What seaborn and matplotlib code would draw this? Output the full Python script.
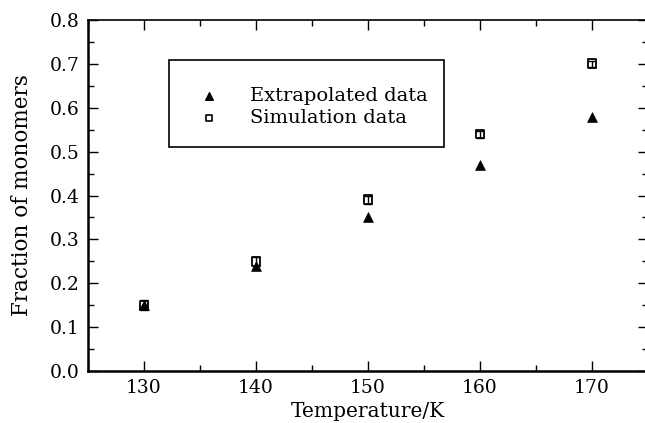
import matplotlib
matplotlib.use("Agg")
import matplotlib.pyplot as plt
from matplotlib.patches import Rectangle
from matplotlib.ticker import MultipleLocator
import seaborn as sns
import pandas as pd

temperature = [130, 140, 150, 160, 170]
extrapolated = [0.15, 0.24, 0.35, 0.47, 0.58]
simulation = [0.15, 0.25, 0.39, 0.54, 0.70]
sim_err = [0.012, 0.010, 0.010, 0.008, 0.006]

sns.set_style("ticks")
plt.rcParams['font.family'] = ['DejaVu Serif']
plt.rcParams['font.size'] = 13
plt.rcParams['text.color'] = 'black'
plt.rcParams['axes.labelcolor'] = 'black'

fig = plt.figure(figsize=(6.45, 4.23), dpi=100)
ax = fig.add_axes([88/645, 52/423, 560/645, 351/423])

df_e = pd.DataFrame({"T": temperature, "f": extrapolated})
df_s = pd.DataFrame({"T": temperature, "f": simulation, "err": sim_err})

ax.errorbar(df_s["T"], df_s["f"], yerr=df_s["err"], fmt="none", ecolor="black",
            elinewidth=1, capsize=3, zorder=2)
sns.scatterplot(data=df_e, x="T", y="f", marker="^", color="black", s=50,
                edgecolor="black", linewidth=0.5, ax=ax, zorder=3)
sns.scatterplot(data=df_s, x="T", y="f", marker="s", facecolor="none", s=40,
                edgecolor="black", linewidth=1.3, ax=ax, zorder=4)

ax.set_xlim(125, 175)
ax.set_ylim(0, 0.8)
ax.xaxis.set_major_locator(MultipleLocator(10))
ax.xaxis.set_minor_locator(MultipleLocator(5))
ax.yaxis.set_major_locator(MultipleLocator(0.1))
ax.yaxis.set_minor_locator(MultipleLocator(0.05))
ax.yaxis.set_major_formatter(matplotlib.ticker.FormatStrFormatter('%.1f'))
ax.tick_params(which="both", direction="in", top=True, right=True, colors="black",
               labelsize=13.5)
ax.tick_params(which="major", length=7, width=1, pad=6)
ax.tick_params(which="minor", length=4, width=1)
for s in ax.spines.values():
    s.set_visible(True)
    s.set_color("black")
    s.set_linewidth(1.2)
ax.spines["left"].set_linewidth(1.8)
ax.spines["bottom"].set_linewidth(1.8)

ax.set_xlabel("Temperature/K", fontsize=14.5, labelpad=3.5)
ax.set_ylabel("Fraction of monomers", fontsize=15.5, labelpad=12)

# legend box
ax.add_patch(Rectangle(((169-88)/560, (371-147)/351), 275/560, 87/351,
                       transform=ax.transAxes, fill=False, edgecolor="black",
                       linewidth=1.2, zorder=5))
h1 = ax.scatter([], [], marker="^", color="black", s=30)
h2 = ax.scatter([], [], marker="s", facecolor="none", edgecolor="black", s=22, linewidth=1.2)
leg = ax.legend([h1, h2], ["Extrapolated data", "Simulation data"],
                loc="center left", bbox_to_anchor=((182-88)/560, (371-107)/351),
                frameon=False, borderaxespad=0, handlelength=2.0, handletextpad=1.1,
                labelspacing=0.22, fontsize=14)

fig.savefig("out.png", dpi=100)
